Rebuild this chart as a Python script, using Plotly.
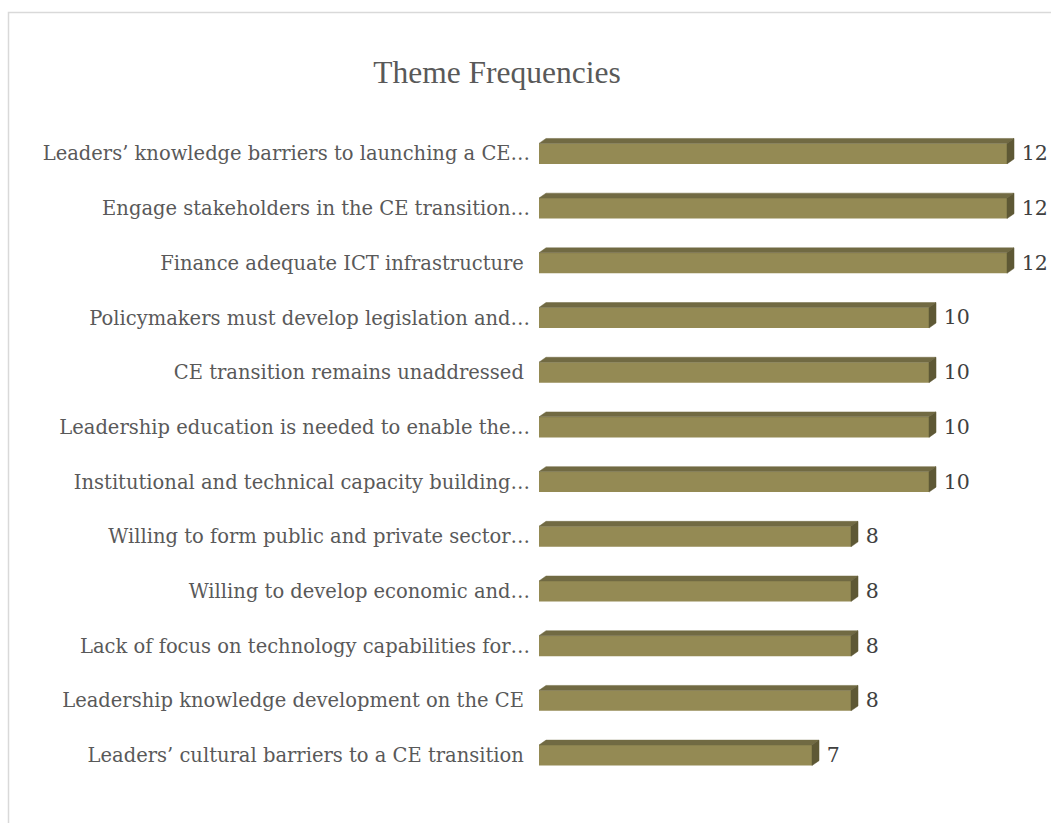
import plotly.graph_objects as go

categories = [
    "Leaders’ knowledge barriers to launching a CE…",
    "Engage stakeholders in the CE transition…",
    "Finance adequate ICT infrastructure ",
    "Policymakers must develop legislation and…",
    "CE transition remains unaddressed ",
    "Leadership education is needed to enable the…",
    "Institutional and technical capacity building…",
    "Willing to form public and private sector…",
    "Willing to develop economic and…",
    "Lack of focus on technology capabilities for…",
    "Leadership knowledge development on the CE ",
    "Leaders’ cultural barriers to a CE transition ",
]
values = [12, 12, 12, 10, 10, 10, 10, 8, 8, 8, 8, 7]

FRONT = "#948a54"
TOP = "#716a43"
SIDE = "#5e5835"
FONT = "DejaVu Serif"

n = len(categories)
ypos = [n - 1 - i for i in range(n)]
bw = 0.375   # bar thickness (category units)
dx = 0.18    # depth offset (value units)
dy = 0.09    # depth offset (category units)
h = bw / 2

top_x, top_y, side_x, side_y = [], [], [], []
for v, y in zip(values, ypos):
    top_x += [0, v, v + dx, dx, 0, None]
    top_y += [y + h, y + h, y + h + dy, y + h + dy, y + h, None]
    side_x += [v, v + dx, v + dx, v, v, None]
    side_y += [y - h, y - h + dy, y + h + dy, y + h, y - h, None]

fig = go.Figure()
fig.add_trace(go.Bar(
    x=values, y=ypos, orientation="h", width=bw,
    marker=dict(color=FRONT, line=dict(width=0)),
    hoverinfo="skip",
))
fig.add_trace(go.Scatter(
    x=top_x, y=top_y, fill="toself", fillcolor=TOP, mode="lines",
    line=dict(width=0.5, color=TOP), hoverinfo="skip",
))
fig.add_trace(go.Scatter(
    x=side_x, y=side_y, fill="toself", fillcolor=SIDE, mode="lines",
    line=dict(width=0.5, color=SIDE), hoverinfo="skip",
))
fig.add_trace(go.Scatter(
    x=[v + dx + 0.2 for v in values], y=[y - 0.03 for y in ypos], mode="text",
    text=[str(v) for v in values], textposition="middle right",
    textfont=dict(family=FONT, size=20.5, color="#404040"),
    hoverinfo="skip", cliponaxis=False,
))

W, H = 1051, 823
L, PW = 539, 507
T, PH = 88, 722
fig.update_layout(
    width=W, height=H,
    margin=dict(l=L, r=W - L - PW, t=T, b=H - T - PH, autoexpand=False),
    plot_bgcolor="white", paper_bgcolor="white",
    showlegend=False,
    title=dict(text="Theme Frequencies", x=497 / W, xref="container", xanchor="center",
               y=1 - 72 / H, yref="container", yanchor="middle",
               font=dict(family="Liberation Serif", size=31.5, color="#595959")),
    xaxis=dict(range=[0, 13], visible=False, fixedrange=True),
    yaxis=dict(range=[-1, 12.2], tickvals=ypos, ticktext=categories,
               showgrid=False, zeroline=False, showline=False,
               ticks="outside", ticklen=4, tickcolor="rgba(0,0,0,0)",
               tickfont=dict(family=FONT, size=19.5, color="#595959")),
    shapes=[dict(type="rect", xref="paper", yref="paper",
                 x0=(8.5 - L) / PW, x1=(1070 - L) / PW,
                 y0=(T + PH - 840) / PH, y1=(T + PH - 12.5) / PH,
                 line=dict(color="#d9d9d9", width=1.5), fillcolor="rgba(0,0,0,0)",
                 layer="below")],
)

fig.write_html(
    "out.html",
    config={"displayModeBar": False},
    post_script="document.body.style.margin='0';document.body.style.overflow='hidden';",
)
